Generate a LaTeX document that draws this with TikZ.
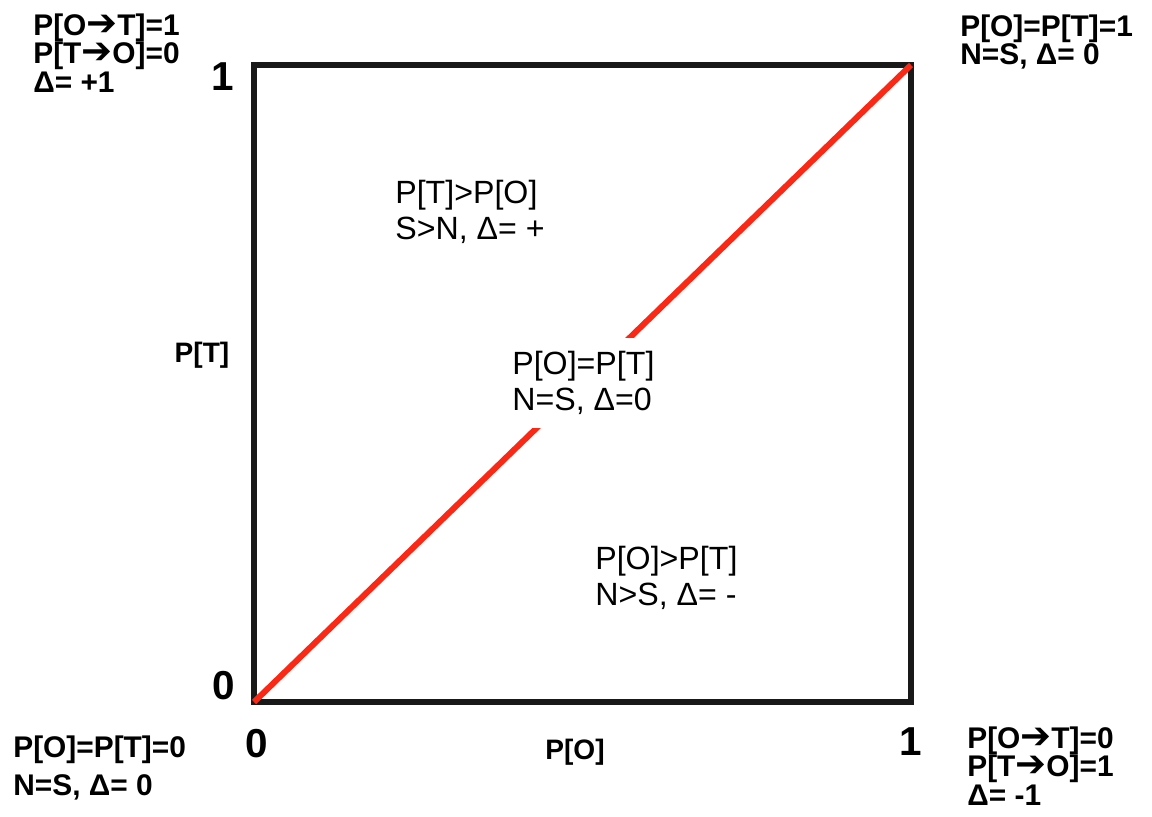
\documentclass[tikz,border=0pt]{standalone}
\usepackage{fontspec}
\setmainfont{Liberation Sans}
\newfontfamily\arrowfont{DejaVu Sans}
\newcommand{\arr}{\smash{\arrowfont\bfseries\fontsize{21}{16}\selectfont ➔}}
\definecolor{diagred}{RGB}{250,40,20}
\definecolor{boxblack}{RGB}{25,25,25}
\begin{document}
\begin{tikzpicture}[x=0.02cm,y=-0.02cm,
  corner/.style={anchor=north west,inner sep=0pt,align=left,font=\fontsize{17}{16.4}\selectfont\bfseries},
  region/.style={anchor=north west,inner sep=0pt,align=left,font=\fontsize{18.3}{20.4}\selectfont},
  tick/.style={inner sep=0pt,font=\fontsize{23}{24}\selectfont\bfseries},
  axislabel/.style={inner sep=0pt,font=\fontsize{16}{18}\selectfont\bfseries}]
\useasboundingbox (0,0) rectangle (1152,816);
\coordinate (bl) at (254,702);
\coordinate (tr) at (911,65);
\draw[line width=3.4pt,color=boxblack] (bl) rectangle (tr);
\draw[line width=3.4pt,color=diagred] (bl) -- (tr);
% tick labels
\node[tick] (t1y) at (223,77) {1};
\node[tick] (t0y) at (224,686) {0};
\node[tick] (t0x) at (257,744) {0};
\node[tick] (t1x) at (911,742) {1};
% axis labels
\node[axislabel] (ylab) at (202,355) {P[T]};
\node[axislabel] (xlab) at (575,752) {P[O]};
% corner labels
\node[corner] (ctl) at (33,13) {P[O\arr T]=1\\P[T\arr O]=0\\Δ= +1};
\node[corner] (ctr) at (960,14) {P[O]=P[T]=1\\N=S, Δ= 0};
\node[corner,font=\fontsize{17}{22}\selectfont\bfseries] (cbl) at (13,735) {P[O]=P[T]=0\\N=S, Δ= 0};
\node[corner] (cbr) at (967,726) {P[O\arr T]=0\\P[T\arr O]=1\\Δ= -1};
% region labels
\node[region] (rup) at (395,180) {P[T]>P[O]\\S>N, Δ= +};
\node[region,fill=white,inner xsep=0.08cm,inner ysep=0.26cm] (rmid) at (508,338) {P[O]=P[T]\\N=S, Δ=0};
\node[region] (rlow) at (595,546) {P[O]>P[T]\\N>S, Δ= -};
\end{tikzpicture}
\end{document}
